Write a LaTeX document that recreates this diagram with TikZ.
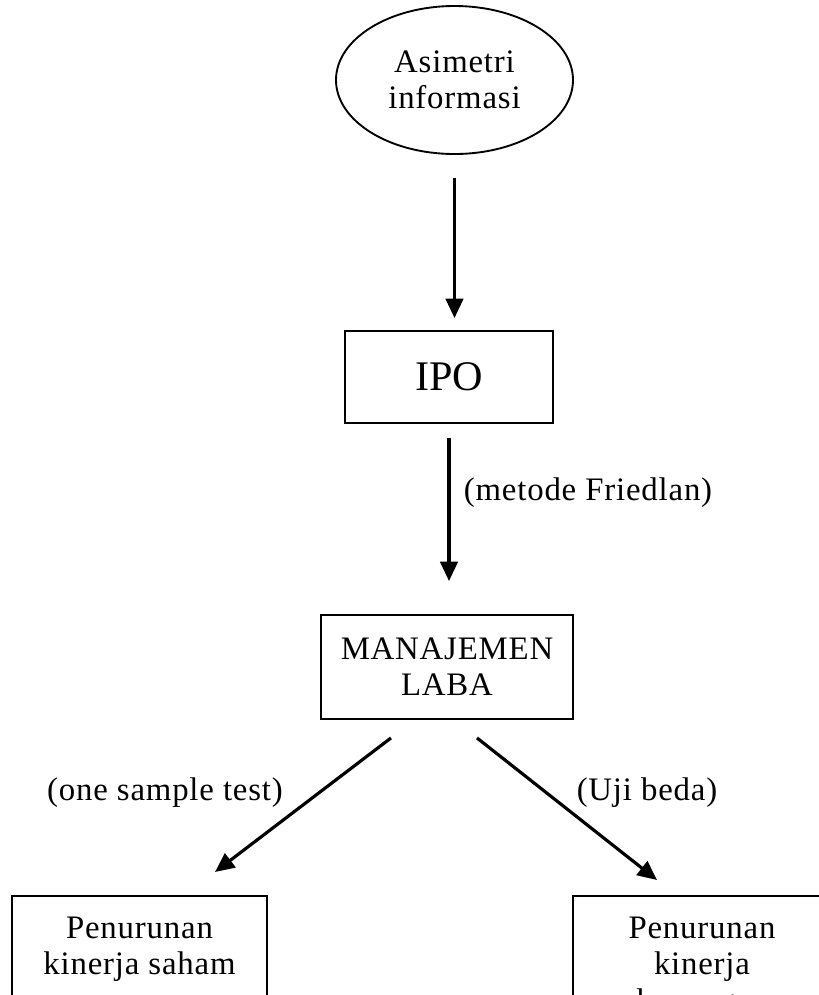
\documentclass[tikz,border=0pt]{standalone}
\usepackage{fontspec}
\setmainfont{Liberation Serif}
\newfontfamily\hurufjarak[LetterSpace=2.5]{Liberation Serif}
\usetikzlibrary{shapes.geometric,arrows.meta,calc}

\tikzset{
  teks/.style={font=\hurufjarak\fontsize{28}{31}\selectfont},
  blok/.style={draw, line width=1.6pt, align=center, teks},
  elips/.style={draw, ellipse, line width=1.6pt, align=center, teks,
    minimum width=7.11cm, minimum height=4.44cm},
  panah/.style={-{Triangle[length=0.58cm,width=0.52cm]}, line width=2.7pt},
  ket/.style={teks}
}

\begin{document}
\begin{tikzpicture}[x=0.03cm,y=-0.03cm]
\useasboundingbox (0,0) rectangle (819,995);
\clip (0,0) rectangle (819,995);

\node[elips] (asim) at (454.5,80) {Asimetri\\informasi};
\node[blok, minimum width=6.24cm, minimum height=2.76cm,
  font=\rmfamily\fontsize{36}{43}\selectfont] (ipo) at (449,377) {IPO};
\node[blok, minimum width=7.56cm, minimum height=3.12cm] (laba) at (447,667) {MANAJEMEN\\LABA};

\node[blok, anchor=north, minimum width=7.65cm, inner ysep=0.63cm, text depth=3cm]
  (saham) at (139.5,895) {Penurunan\\kinerja saham};
\node[blok, anchor=north, minimum width=7.74cm, inner ysep=0.63cm, text depth=3cm]
  (keu) at (702,895) {Penurunan\\kinerja\\keuangan};

\draw[panah, shorten <=0.69cm, shorten >=0.36cm] (asim.south) -- (asim.south |- ipo.north);
\draw[panah, shorten <=0.42cm, shorten >=0.99cm] (ipo.south) -- (ipo.south |- laba.north)
  node[pos=0.36, right, inner xsep=0.4cm, ket] (fried) {(metode Friedlan)};

\coordinate (k1) at ($(laba.south)+(-56,18)$);
\coordinate (k2) at ($(saham.north)+(75.5,-23)$);
\coordinate (k3) at ($(laba.south)+(30,18)$);
\coordinate (k4) at ($(keu.north)+(-45,-15)$);
\draw[panah] (k1) -- (k2);
\draw[panah] (k3) -- (k4);

\node[ket] (one) at (165,793) {(one sample test)};
\node[ket] (uji) at (647,793) {(Uji beda)};

\end{tikzpicture}
\end{document}
